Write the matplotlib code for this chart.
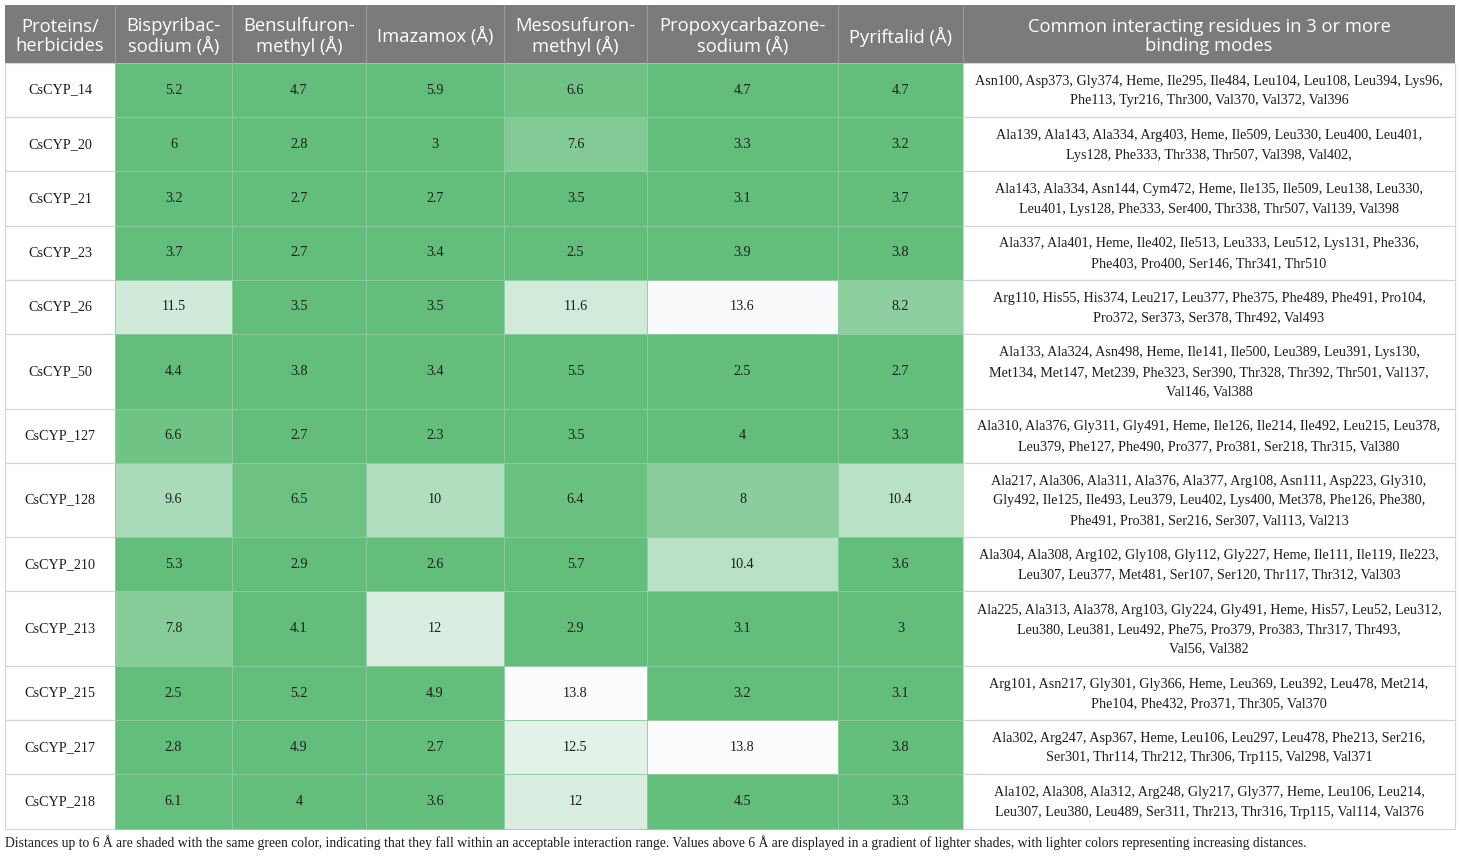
import matplotlib
matplotlib.use("Agg")
import matplotlib.pyplot as plt
from matplotlib.patches import Rectangle
import numpy as np

# table content
headers = ["Proteins/\nherbicides", "Bispyribac-\nsodium (Å)", "Bensulfuron-\nmethyl (Å)",
           "Imazamox (Å)", "Mesosufuron-\nmethyl (Å)", "Propoxycarbazone-\nsodium (Å)",
           "Pyriftalid (Å)", "Common interacting residues in 3 or more\nbinding modes"]

proteins = ["CsCYP_14", "CsCYP_20", "CsCYP_21", "CsCYP_23", "CsCYP_26", "CsCYP_50",
            "CsCYP_127", "CsCYP_128", "CsCYP_210", "CsCYP_213", "CsCYP_215",
            "CsCYP_217", "CsCYP_218"]

bispyribac = [5.2, 6, 3.2, 3.7, 11.5, 4.4, 6.6, 9.6, 5.3, 7.8, 2.5, 2.8, 6.1]
bensulfuron = [4.7, 2.8, 2.7, 2.7, 3.5, 3.8, 2.7, 6.5, 2.9, 4.1, 5.2, 4.9, 4]
imazamox = [5.9, 3, 2.7, 3.4, 3.5, 3.4, 2.3, 10, 2.6, 12, 4.9, 2.7, 3.6]
mesosulfuron = [6.6, 7.6, 3.5, 2.5, 11.6, 5.5, 3.5, 6.4, 5.7, 2.9, 13.8, 12.5, 12]
propoxycarbazone = [4.7, 3.3, 3.1, 3.9, 13.6, 2.5, 4, 8, 10.4, 3.1, 3.2, 13.8, 4.5]
pyriftalid = [4.7, 3.2, 3.7, 3.8, 8.2, 2.7, 3.3, 10.4, 3.6, 3, 3.1, 3.8, 3.3]

residues = [
    "Asn100, Asp373, Gly374, Heme, Ile295, Ile484, Leu104, Leu108, Leu394, Lys96,\nPhe113, Tyr216, Thr300, Val370, Val372, Val396",
    "Ala139, Ala143, Ala334, Arg403, Heme, Ile509, Leu330, Leu400, Leu401,\nLys128, Phe333, Thr338, Thr507, Val398, Val402,",
    "Ala143, Ala334, Asn144, Cym472, Heme, Ile135, Ile509, Leu138, Leu330,\nLeu401, Lys128, Phe333, Ser400, Thr338, Thr507, Val139, Val398",
    "Ala337, Ala401, Heme, Ile402, Ile513, Leu333, Leu512, Lys131, Phe336,\nPhe403, Pro400, Ser146, Thr341, Thr510",
    "Arg110, His55, His374, Leu217, Leu377, Phe375, Phe489, Phe491, Pro104,\nPro372, Ser373, Ser378, Thr492, Val493",
    "Ala133, Ala324, Asn498, Heme, Ile141, Ile500, Leu389, Leu391, Lys130,\nMet134, Met147, Met239, Phe323, Ser390, Thr328, Thr392, Thr501, Val137,\nVal146, Val388",
    "Ala310, Ala376, Gly311, Gly491, Heme, Ile126, Ile214, Ile492, Leu215, Leu378,\nLeu379, Phe127, Phe490, Pro377, Pro381, Ser218, Thr315, Val380",
    "Ala217, Ala306, Ala311, Ala376, Ala377, Arg108, Asn111, Asp223, Gly310,\nGly492, Ile125, Ile493, Leu379, Leu402, Lys400, Met378, Phe126, Phe380,\nPhe491, Pro381, Ser216, Ser307, Val113, Val213",
    "Ala304, Ala308, Arg102, Gly108, Gly112, Gly227, Heme, Ile111, Ile119, Ile223,\nLeu307, Leu377, Met481, Ser107, Ser120, Thr117, Thr312, Val303",
    "Ala225, Ala313, Ala378, Arg103, Gly224, Gly491, Heme, His57, Leu52, Leu312,\nLeu380, Leu381, Leu492, Phe75, Pro379, Pro383, Thr317, Thr493,\nVal56, Val382",
    "Arg101, Asn217, Gly301, Gly366, Heme, Leu369, Leu392, Leu478, Met214,\nPhe104, Phe432, Pro371, Thr305, Val370",
    "Ala302, Arg247, Asp367, Heme, Leu106, Leu297, Leu478, Phe213, Ser216,\nSer301, Thr114, Thr212, Thr306, Trp115, Val298, Val371",
    "Ala102, Ala308, Ala312, Arg248, Gly217, Gly377, Heme, Leu106, Leu214,\nLeu307, Leu380, Leu489, Ser311, Thr213, Thr316, Trp115, Val114, Val376",
]

footnote = ("Distances up to 6 Å are shaded with the same green color, indicating that they fall within an "
            "acceptable interaction range. Values above 6 Å are displayed in a gradient of lighter shades, "
            "with lighter colors representing increasing distances.")

distances = np.array([bispyribac, bensulfuron, imazamox, mesosulfuron,
                      propoxycarbazone, pyriftalid]).T

# colour scale: green up to 6, then fading to near white at the max
green = np.array([99, 190, 123]) / 255
white = np.array([252, 252, 255]) / 255
vmax = distances.max()

def shade(v):
    if v <= 6:
        return green
    t = (v - 6) / (vmax - 6)
    return green * (1 - t) + white * t

W, H = 1460, 856
fig = plt.figure(figsize=(W / 100, H / 100), dpi=100)
ax = fig.add_axes([0, 0, 1, 1])
ax.set_xlim(0, W)
ax.set_ylim(H, 0)
ax.axis("off")

col_edges = [5, 115, 232, 366, 504, 647, 838, 963, 1455]
header_top, header_bot = 5, 63
line_h, pad = 20.3, 13.6

serif = "Liberation Serif"
sans = "Open Sans"
txt_col = "#1e1e1e"
fs = 10.2

# header
ax.add_patch(Rectangle((col_edges[0], header_top), col_edges[-1] - col_edges[0],
                       header_bot - header_top, facecolor="#7b7b7b", edgecolor="none"))
for i, h in enumerate(headers):
    xc = (col_edges[i] + col_edges[i + 1]) / 2
    ax.text(xc, (header_top + header_bot) / 2 + 2.5, h, ha="center", va="center",
            color="white", fontsize=13.2, family=sans, linespacing=1.12)
    if i > 0:
        ax.plot([col_edges[i]] * 2, [header_top, header_bot], color="#9a9a9a", lw=0.8)

# body rows
y = header_bot
for r, prot in enumerate(proteins):
    nlines = residues[r].count("\n") + 1
    rh = pad + nlines * line_h
    yc = y + rh / 2
    # protein name cell
    ax.add_patch(Rectangle((col_edges[0], y), col_edges[1] - col_edges[0], rh,
                           facecolor="white", edgecolor="#d4d4d4", lw=0.8))
    ax.text((col_edges[0] + col_edges[1]) / 2, yc, prot, ha="center", va="center",
            fontsize=fs, family=serif, color=txt_col)
    for c in range(distances.shape[1]):
        v = distances[r, c]
        ax.add_patch(Rectangle((col_edges[c + 1], y), col_edges[c + 2] - col_edges[c + 1], rh,
                               facecolor=shade(v), edgecolor="#8fcc9f", lw=0.6))
        ax.text((col_edges[c + 1] + col_edges[c + 2]) / 2, yc, f"{v:g}", ha="center",
                va="center", fontsize=fs, family=serif, color=txt_col)
    ax.add_patch(Rectangle((col_edges[7], y), col_edges[8] - col_edges[7], rh,
                           facecolor="white", edgecolor="#d4d4d4", lw=0.8))
    ax.text((col_edges[7] + col_edges[8]) / 2, yc + 1, residues[r], ha="center", va="center",
            fontsize=fs, family=serif, color=txt_col, linespacing=1.65)
    y += rh

ax.text(col_edges[0], y + 14, footnote, ha="left", va="center", fontsize=9.8,
        family=serif, color=txt_col)

fig.savefig("out.png", dpi=100)
